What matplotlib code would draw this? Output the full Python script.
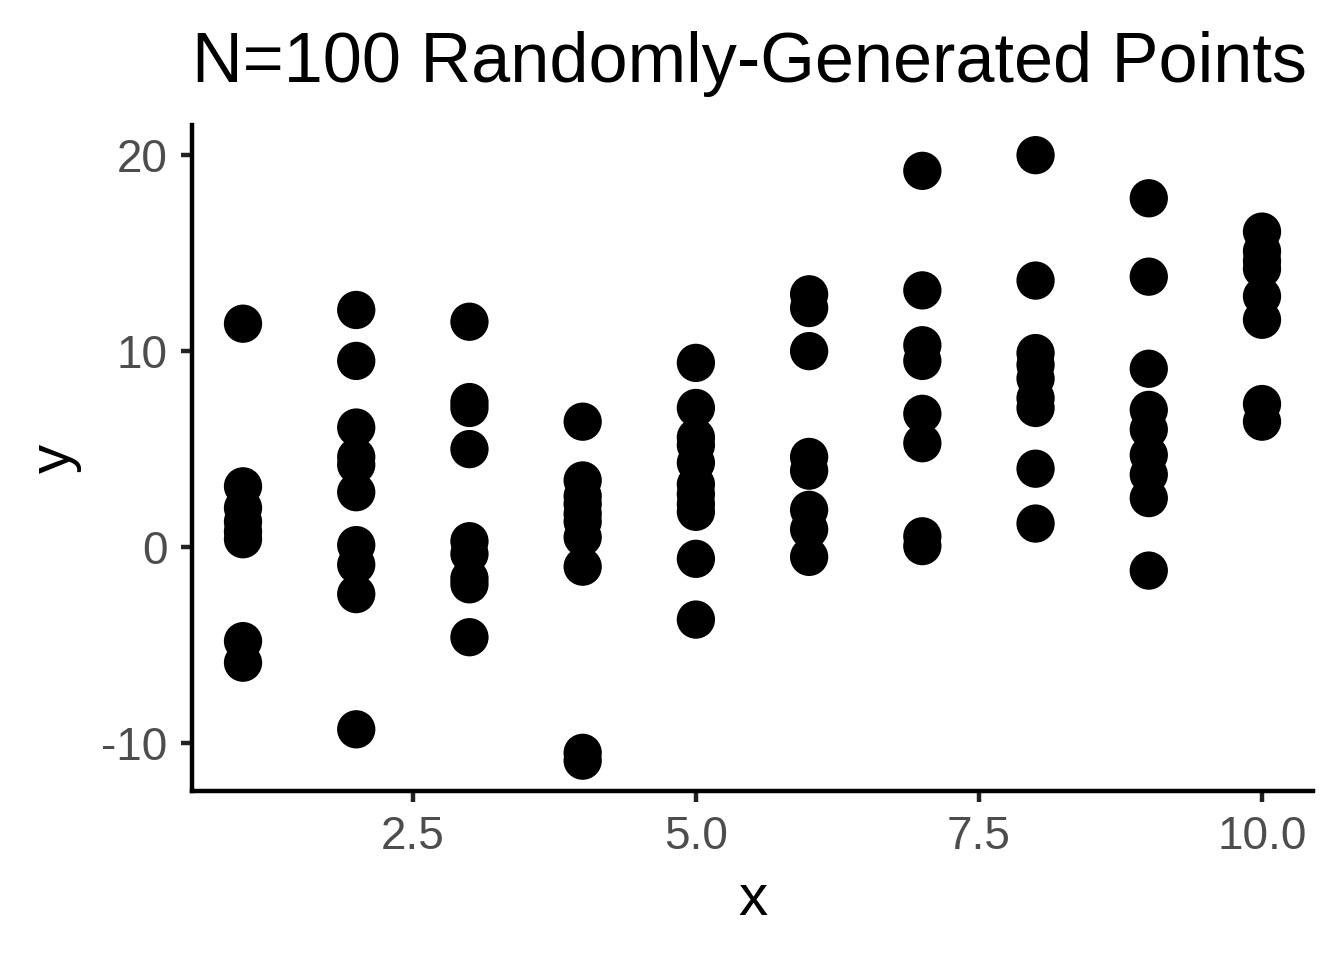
import numpy as np
import matplotlib.pyplot as plt

plt.rcParams['font.family'] = ['Liberation Sans', 'DejaVu Sans']

# values, grouped by x
y1 = [11.4, 3.1, 2.0, 1.3, 0.8, 0.4, -4.8, -5.9]
y2 = [12.1, 9.5, 6.1, 4.6, 4.2, 2.8, 0.1, -0.9, -2.4, -9.3]
y3 = [11.5, 7.4, 7.1, 5.0, 0.3, -0.35, -1.6, -1.9, -4.6]
y4 = [6.4, 3.4, 2.6, 2.2, 1.7, 1.3, 0.5, -1.0, -10.5, -10.9]
y5 = [9.4, 7.1, 5.6, 5.2, 4.3, 3.2, 2.7, 2.2, 1.8, -0.6, -3.7]
y6 = [12.9, 12.2, 10.0, 4.6, 3.9, 1.9, 0.9, -0.5]
y7 = [19.2, 13.1, 10.3, 9.5, 6.8, 5.3, 0.55, 0.05]
y8 = [20.0, 13.6, 9.9, 9.3, 8.6, 7.6, 7.1, 4.0, 1.2]
y9 = [17.8, 13.8, 9.1, 7.0, 6.0, 4.7, 3.7, 2.5, -1.2]
y10 = [16.1, 15.1, 14.6, 14.2, 12.8, 11.6, 7.3, 6.4]
groups = [y1, y2, y3, y4, y5, y6, y7, y8, y9, y10]

x = np.concatenate([[i + 1] * len(g) for i, g in enumerate(groups)])
y = np.concatenate(groups)

fig = plt.figure(figsize=(6.72, 4.8), dpi=200)
ax = fig.add_axes([0.1429, 0.176, 0.834, 0.694])
ax.scatter(x, y, s=190, c='black', edgecolors='none')

ax.set_xlim(0.55, 10.45)
ax.set_ylim(-12.45, 21.55)
ax.set_xticks([2.5, 5.0, 7.5, 10.0])
ax.set_xticklabels(['2.5', '5.0', '7.5', '10.0'])
ax.set_yticks([-10, 0, 10, 20])
ax.set_yticklabels(['-10', '0', '10', '20'])

for s in ['top', 'right']:
    ax.spines[s].set_visible(False)
for s in ['left', 'bottom']:
    ax.spines[s].set_linewidth(1.6)
ax.tick_params(labelsize=16.5, colors='#222222', labelcolor='#4D4D4D',
               length=4, width=1.6, pad=4.8)

ax.set_xlabel('x', fontsize=21, labelpad=5)
ax.set_ylabel('y', fontsize=21, labelpad=7)
ax.set_title('N=100 Randomly-Generated Points', fontsize=25.3, loc='left', pad=15.5)

fig.savefig('out.png', dpi=200)
